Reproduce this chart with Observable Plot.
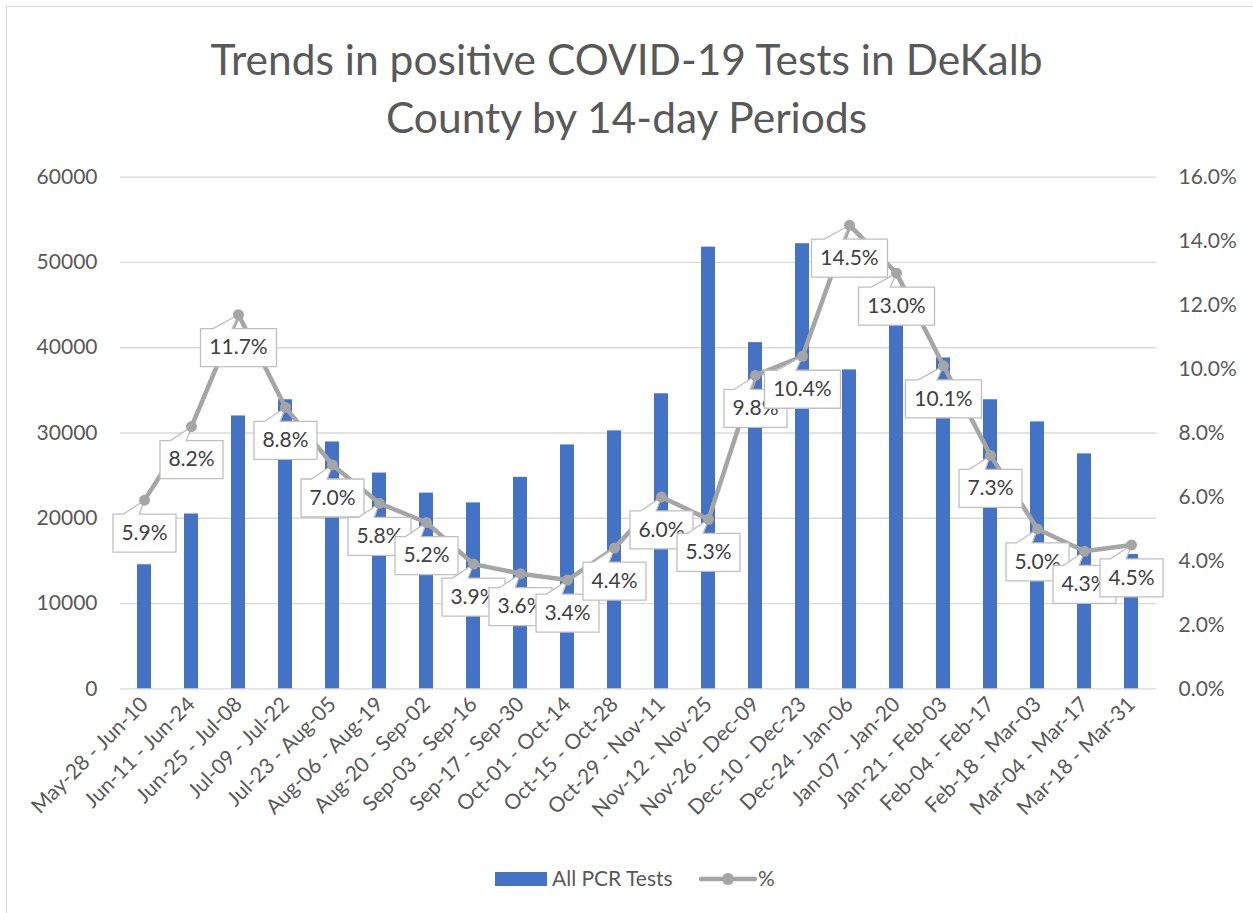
<!DOCTYPE html>
<html>
<head>
<meta charset="utf-8">
<script src="https://cdn.jsdelivr.net/npm/d3@7"></script>
<script src="https://cdn.jsdelivr.net/npm/@observablehq/plot@0.6"></script>
<style>
  html, body { margin: 0; padding: 0; background: #fff; overflow: hidden; }
  #wrap { position: relative; width: 1253px; height: 913px; font-family: Lato, "Open Sans", sans-serif; color: #595959; }
  #border { position: absolute; left: 6px; top: 6px; width: 1300px; height: 1000px; border: 1.5px solid #d9d9d9; box-sizing: border-box; }
  #title { position: absolute; left: 0; top: 30px; width: 1253px; text-align: center; font-size: 42.5px; line-height: 58px; }
  #chart { position: absolute; left: 0; top: 150px; }
  .lg { position: absolute; font-size: 21px; line-height: 24px; }
</style>
</head>
<body>
<div id="wrap">
  <div id="border"></div>
  <div id="title">Trends in positive COVID-19 Tests in DeKalb<br>County by 14-day Periods</div>
  <div id="chart"></div>
  <div class="lg" style="left:495px;top:872px;width:52px;height:14px;background:#4472c4"></div>
  <div class="lg" style="left:552px;top:866px;">All PCR Tests</div>
  <svg class="lg" style="left:698px;top:870px" width="60" height="18">
    <line x1="3" x2="57" y1="9" y2="9" stroke="#a5a5a5" stroke-width="4.5" stroke-linecap="round"></line>
    <circle cx="30" cy="9" r="6" fill="#a5a5a5"></circle>
  </svg>
  <div class="lg" style="left:758px;top:866px;">%</div>
</div>
<script>
const categories = [
  "May-28 - Jun-10", "Jun-11 - Jun-24", "Jun-25 - Jul-08", "Jul-09 - Jul-22",
  "Jul-23 - Aug-05", "Aug-06 - Aug-19", "Aug-20 - Sep-02", "Sep-03 - Sep-16",
  "Sep-17 - Sep-30", "Oct-01 - Oct-14", "Oct-15 - Oct-28", "Oct-29 - Nov-11",
  "Nov-12 - Nov-25", "Nov-26 - Dec-09", "Dec-10 - Dec-23", "Dec-24 - Jan-06",
  "Jan-07 - Jan-20", "Jan-21 - Feb-03", "Feb-04 - Feb-17", "Feb-18 - Mar-03",
  "Mar-04 - Mar-17", "Mar-18 - Mar-31"
];
const pcrTests = [
  14550, 20500, 32000, 33900, 28950, 25300, 22950, 21800, 24800, 28600, 30250,
  34600, 51800, 40600, 52200, 37400, 44000, 38800, 33900, 31300, 27550, 15750
];
const pctPositive = [
  5.9, 8.2, 11.7, 8.8, 7.0, 5.8, 5.2, 3.9, 3.6, 3.4, 4.4,
  6.0, 5.3, 9.8, 10.4, 14.5, 13.0, 10.1, 7.3, 5.0, 4.3, 4.5
];
const leftTicks = [0, 10000, 20000, 30000, 40000, 50000, 60000];
const rightTicks = [0, 2, 4, 6, 8, 10, 12, 14, 16];

// secondary axis: 16% corresponds to 60000 on the primary axis
const PCT_TO_COUNT = 60000 / 16;

const rows = categories.map((c, i) => ({
  period: c,
  tests: pcrTests[i],
  pctY: pctPositive[i] * PCT_TO_COUNT,
  label: pctPositive[i].toFixed(1) + "%"
}));

function callout(w, top = 14, h = 38) {
  return {
    draw(ctx) {
      const l = -w / 2, r = w / 2, b = top + h;
      ctx.moveTo(l, top);
      ctx.lineTo(l + w * 2 / 12, top);
      ctx.lineTo(0, 0);
      ctx.lineTo(l + w * 5 / 12, top);
      ctx.lineTo(r, top);
      ctx.lineTo(r, b);
      ctx.lineTo(l, b);
      ctx.closePath();
    }
  };
}

const labelMarks = rows.flatMap(d => [
  Plot.dot([d], {x: "period", y: "pctY", symbol: callout(d.label.length > 4 ? 76 : 63), r: 5,
    fill: "white", stroke: "#bfbfbf", strokeWidth: 1.3}),
  Plot.text([d], {x: "period", y: "pctY", text: "label", dy: 33, fill: "#404040", fontSize: 21})
]);

const chart = Plot.plot({
  width: 1253,
  height: 700,
  marginLeft: 120,
  marginRight: 97,
  marginTop: 26.7,
  marginBottom: 161.7,
  style: {fontFamily: "Lato, 'Open Sans', sans-serif", fontSize: "21px", color: "#595959", background: "transparent", overflow: "visible"},
  x: {type: "band", domain: categories, paddingInner: 0.7, paddingOuter: 0.35, label: null},
  y: {domain: [0, 60000], label: null},
  marks: [
    Plot.gridY(leftTicks, {stroke: "#d9d9d9", strokeOpacity: 1, strokeWidth: 1.3}),
    Plot.axisY(leftTicks, {anchor: "left", tickSize: 0, tickPadding: 23, fontSize: 21,
      tickFormat: d => String(d), label: null}),
    Plot.axisY(rightTicks.map(v => v * PCT_TO_COUNT), {anchor: "right", tickSize: 0, tickPadding: 22, fontSize: 21,
      tickFormat: d => (d / PCT_TO_COUNT).toFixed(1) + "%", label: null}),
    Plot.axisX({tickRotate: -45, tickSize: 0, tickPadding: 12, fontSize: 21, label: null}),
    Plot.barY(rows, {x: "period", y: "tests", fill: "#4472c4"}),
    Plot.line(rows, {x: "period", y: "pctY", stroke: "#a5a5a5", strokeWidth: 4.5}),
    ...labelMarks,
    Plot.dot(rows, {x: "period", y: "pctY", r: 5.5, fill: "#a5a5a5"})
  ]
});
document.getElementById("chart").appendChild(chart);
</script>
</body>
</html>
